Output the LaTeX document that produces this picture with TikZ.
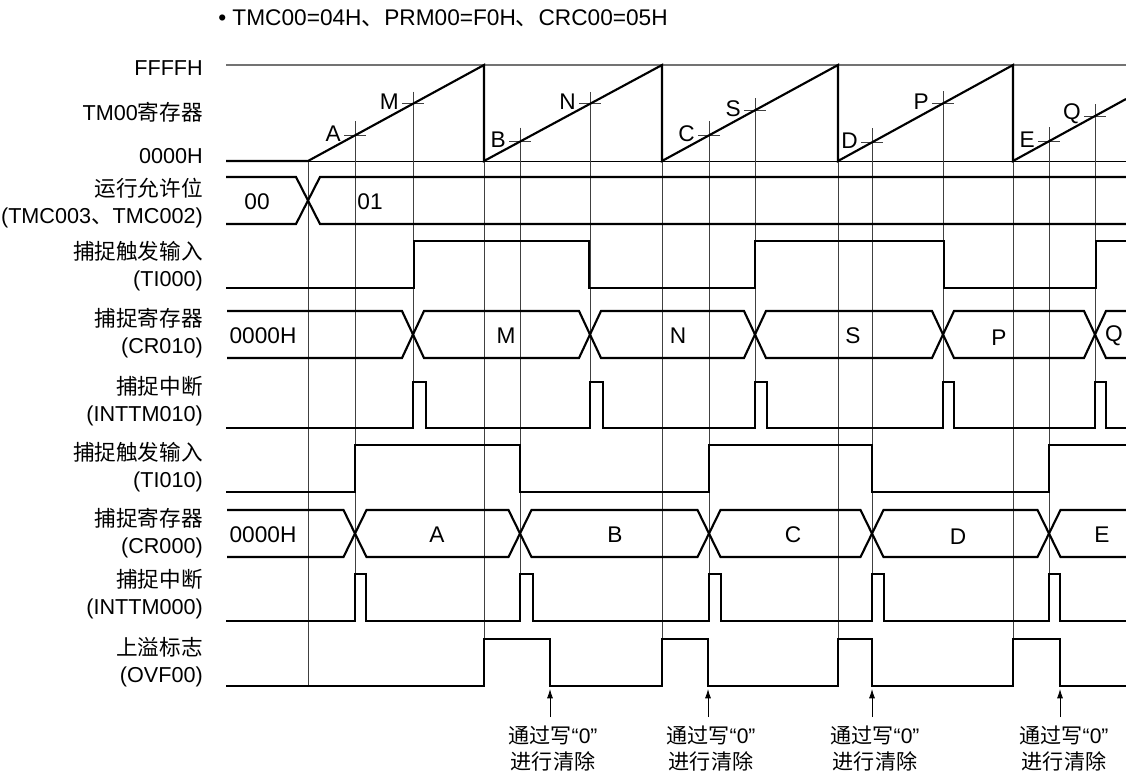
\documentclass[tikz,border=0pt]{standalone}
\usepackage{fontspec}
\setmainfont{Liberation Sans}
\newfontfamily\cjk{Noto Sans CJK SC}
\usetikzlibrary{arrows.meta}
\begin{document}
\begin{tikzpicture}[x=0.75pt,y=-0.75pt,
  sig/.style={line width=1.6pt, line join=miter},
  guide/.style={line width=0.6pt, black!75},
  lbl/.style={font=\fontsize{16.2}{20.5}\selectfont, align=right, anchor=east, inner sep=0pt},
  txt/.style={font=\fontsize{17}{20}\selectfont, inner sep=0pt},
  ttl/.style={font=\fontsize{17}{20}\selectfont, inner sep=0pt},
  note/.style={font=\fontsize{15.8}{19.5}\selectfont, align=center, inner sep=0pt},
  arr/.style={line width=0.6pt, -{Latex[length=7pt,width=4.5pt]}},
]
\useasboundingbox (0,0) rectangle (1126,771);

% title
\node[ttl, anchor=west] (title) at (218,18) {• TMC00=04H{\cjk 、}PRM00=F0H{\cjk 、}CRC00=05H};

% reference lines of counter
\draw[line width=0.9pt, black!55] (226,65) -- (1126,65);
\draw[line width=0.6pt] (226,161) -- (1126,161);

% guide lines
\draw[guide] (308,161) -- (308,687);
\foreach \x in {484,662,838,1013} \draw[guide] (\x,161) -- (\x,638);
\foreach \x/\y/\t in {355/135.4/A, 520/141.6/B, 709/135.4/C, 872/142.3/D, 1049/141.3/E}{
  \draw[guide] (\x,\y-14) -- (\x,574);
  \draw[guide] (\x-11,\y) -- (\x+11,\y);
  \node[txt, anchor=east] (lab\t) at (\x-14,\y-2) {\t};
}
\foreach \x/\y/\t in {413/103.7/M, 590/103.8/N, 755/110.3/S, 943/103.4/P, 1095/116/Q}{
  \draw[guide] (\x,\y-12) -- (\x,382);
  \draw[guide] (\x-11,\y) -- (\x+11,\y);
  \node[txt, anchor=east] (lab\t) at (\x-14,\y-2) {\t};
}

% left labels
\node[lbl] (l1) at (203,68) {FFFFH};
\node[lbl] (l2) at (203,112) {TM00{\cjk 寄存器}};
\node[lbl] (l3) at (203,156) {0000H};
\node[lbl] (l4) at (203,203) {{\cjk 运行允许位}\\(TMC003{\cjk 、}TMC002)};
\node[lbl] (l5) at (203,266) {{\cjk 捕捉触发输入}\\(TI000)};
\node[lbl] (l6) at (203,333) {{\cjk 捕捉寄存器}\\(CR010)};
\node[lbl] (l7) at (203,401) {{\cjk 捕捉中断}\\(INTTM010)};
\node[lbl] (l8) at (203,467) {{\cjk 捕捉触发输入}\\(TI010)};
\node[lbl] (l9) at (203,533) {{\cjk 捕捉寄存器}\\(CR000)};
\node[lbl] (l10) at (203,594) {{\cjk 捕捉中断}\\(INTTM000)};
\node[lbl] (l11) at (203,662) {{\cjk 上溢标志}\\(OVF00)};

% counter
\draw[sig] (226,161) -- (308,161) -- (484,65) -- (484,161) -- (662,65) -- (662,161) -- (838,65) -- (838,161) -- (1013,65) -- (1013,161) -- (1126,99);

% run enable bus
\draw[sig] (226,177) -- (296,177) -- (320,224) -- (1126,224);
\draw[sig] (226,224) -- (296,224) -- (320,177) -- (1126,177);
\node[txt] (b00) at (257,202) {00};
\node[txt] (b01) at (370,202) {01};

% TI000
\draw[sig] (226,288) -- (414,288) -- (414,241) -- (589,241) -- (589,288) -- (755,288) -- (755,241) -- (944,241) -- (944,288) -- (1096,288) -- (1096,241) -- (1126,241);

% CR010 bus
\draw[sig] (227,311) -- (402,311) -- (424,358) -- (579,358) -- (601,311) -- (744,311) -- (766,358) -- (932,358) -- (954,311) -- (1084,311) -- (1106,358) -- (1126,358);
\draw[sig] (227,358) -- (402,358) -- (424,311) -- (579,311) -- (601,358) -- (744,358) -- (766,311) -- (932,311) -- (954,358) -- (1084,358) -- (1106,311) -- (1126,311);
\node[txt] (c10a) at (263,336) {0000H};
\node[txt] (c10b) at (506,336) {M};
\node[txt] (c10c) at (678,336) {N};
\node[txt] (c10d) at (853,336) {S};
\node[txt] (c10e) at (999,338) {P};
\node[txt] (c10f) at (1114,336) {Q};

% INTTM010
\draw[sig] (226,428) -- (413,428) -- (413,382) -- (426,382) -- (426,428) -- (590,428) -- (590,382) -- (603,382) -- (603,428) -- (755,428) -- (755,382) -- (767,382) -- (767,428) -- (943,428) -- (943,382) -- (954,382) -- (954,428) -- (1095,428) -- (1095,382) -- (1106,382) -- (1106,428) -- (1126,428);

% TI010
\draw[sig] (226,492) -- (355,492) -- (355,445) -- (520,445) -- (520,492) -- (709,492) -- (709,445) -- (872,445) -- (872,492) -- (1049,492) -- (1049,445) -- (1126,445);

% CR000 bus
\draw[sig] (227,510) -- (343.5,510) -- (366.5,557) -- (508.5,557) -- (531.5,510) -- (697.5,510) -- (720.5,557) -- (860.5,557) -- (883.5,510) -- (1037.5,510) -- (1060.5,557) -- (1126,557);
\draw[sig] (227,557) -- (343.5,557) -- (366.5,510) -- (508.5,510) -- (531.5,557) -- (697.5,557) -- (720.5,510) -- (860.5,510) -- (883.5,557) -- (1037.5,557) -- (1060.5,510) -- (1126,510);
\node[txt] (c00a) at (263,535) {0000H};
\node[txt] (c00b) at (437,535) {A};
\node[txt] (c00c) at (615,535) {B};
\node[txt] (c00d) at (793,535) {C};
\node[txt] (c00e) at (958,537) {D};
\node[txt] (c00f) at (1102,535) {E};

% INTTM000
\draw[sig] (226,621) -- (355,621) -- (355,574) -- (366,574) -- (366,621) -- (520,621) -- (520,574) -- (533,574) -- (533,621) -- (709,621) -- (709,574) -- (721,574) -- (721,621) -- (872,621) -- (872,574) -- (884,574) -- (884,621) -- (1049,621) -- (1049,574) -- (1060,574) -- (1060,621) -- (1126,621);

% OVF00
\draw[sig] (226,686) -- (484,686) -- (484,639) -- (550,639) -- (550,686) -- (662,686) -- (662,639) -- (708,639) -- (708,686) -- (838,686) -- (838,639) -- (872,639) -- (872,686) -- (1013,686) -- (1013,639) -- (1060,639) -- (1060,686) -- (1126,686);

% clear notes
\foreach \i/\x/\tx in {1/550/553, 2/708/711, 3/872/875, 4/1060/1064}{
  \node[note] (n\i) at (\tx,749) {{\cjk 通过写}“0”\\{\cjk 进行清除}};
  \coordinate (s\i) at (\x,717);
  \coordinate (e\i) at (\x,689);
  \draw[arr] (s\i) -- (e\i);
}
\end{tikzpicture}
\end{document}
